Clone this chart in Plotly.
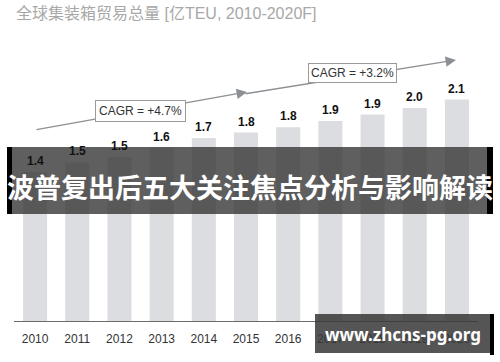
import plotly.graph_objects as go

years = ["2010", "2011", "2012", "2013", "2014", "2015", "2016", "2017", "2018", "2019", "2020"]
volumes = [1.40, 1.49, 1.54, 1.63, 1.72, 1.77, 1.82, 1.88, 1.94, 2.00, 2.08]
value_labels = ["1.4", "1.5", "1.5", "1.6", "1.7", "1.8", "1.8", "1.9", "1.9", "2.0", "2.1"]
cagr_labels = ["CAGR = +4.7%", "CAGR = +3.2%"]
title_text = "全球集装箱贸易总量 [亿TEU, 2010-2020F]"
banner_text = "波普复出后五大关注焦点分析与影响解读"
watermark_text = "www.zhcns-pg.org"

W, H = 500, 362
ML, MR, MT, MB = 14, 22, 40, 41
PW, PH = W - ML - MR, H - MT - MB
YMAX = 2.64


def px(xp):
    return (xp - ML) / PW


def py(yp):
    return (H - MB - yp) / PH


def dx(xp):
    return (xp - ML) / (PW / len(years)) - 0.5


def dy(yp):
    return (H - MB - yp) / PH * YMAX


fig = go.Figure()
fig.add_trace(go.Bar(
    x=years, y=volumes,
    marker=dict(color="#dcdde1", line=dict(width=0)),
    cliponaxis=False, hoverinfo="skip",
))

shapes = [
    dict(type="rect", xref="paper", yref="paper", x0=px(12), x1=px(487), y0=py(214), y1=py(147),
         fillcolor="rgba(55,55,55,0.80)", line=dict(width=0), layer="above"),
    dict(type="rect", xref="paper", yref="paper", x0=px(7), x1=px(12), y0=py(214), y1=py(147),
         fillcolor="#000000", line=dict(width=0), layer="above"),
    dict(type="rect", xref="paper", yref="paper", x0=px(487), x1=px(493), y0=py(214), y1=py(147),
         fillcolor="#000000", line=dict(width=0), layer="above"),
    dict(type="rect", xref="paper", yref="paper", x0=px(315), x1=px(490), y0=py(353), y1=py(314),
         fillcolor="rgba(55,55,55,0.85)", line=dict(width=0), layer="above"),
    dict(type="rect", xref="paper", yref="paper", x0=px(490), x1=px(494), y0=py(355), y1=py(314),
         fillcolor="#000000", line=dict(width=0), layer="above"),
]

annotations = [
    dict(text=title_text, xref="paper", yref="paper", x=px(14), y=py(3), xanchor="left", yanchor="top",
         showarrow=False, font=dict(family="Liberation Sans, Noto Sans CJK SC", size=16, color="#a8a8a8")),
    # arrows
    dict(text="", x=dx(247), y=dy(92), ax=dx(35), ay=dy(130), xref="x", yref="y", axref="x", ayref="y",
         showarrow=True, arrowhead=2, arrowsize=1.6, arrowwidth=1.3, arrowcolor="#8c8f94", standoff=0),
    dict(text="", x=dx(456), y=dy(60), ax=dx(244), ay=dy(94), xref="x", yref="y", axref="x", ayref="y",
         showarrow=True, arrowhead=2, arrowsize=1.6, arrowwidth=1.3, arrowcolor="#8c8f94", standoff=0),
    dict(text=cagr_labels[0], x=dx(140), y=dy(111), xref="x", yref="y", showarrow=False,
         font=dict(family="Liberation Sans", size=12, color="#333333"),
         bgcolor="white", bordercolor="#9a9a9a", borderwidth=1, borderpad=3),
    dict(text=cagr_labels[1], x=dx(352), y=dy(73), xref="x", yref="y", showarrow=False,
         font=dict(family="Liberation Sans", size=12, color="#333333"),
         bgcolor="white", bordercolor="#9a9a9a", borderwidth=1, borderpad=2),
    dict(text=banner_text, xref="paper", yref="paper", x=px(250), y=py(186), xanchor="center", yanchor="middle",
         showarrow=False, font=dict(family="Noto Sans CJK SC", size=27, color="white", weight="bold")),
    dict(text=watermark_text, xref="paper", yref="paper", x=px(403), y=py(334), xanchor="center", yanchor="middle",
         showarrow=False, font=dict(family="Noto Sans", size=17, color="white", weight="bold")),
]

for i, (v, lab) in enumerate(zip(volumes, value_labels)):
    annotations.append(dict(text=lab, x=i, y=v, xref="x", yref="y", showarrow=False,
                            yanchor="bottom", yshift=2,
                            font=dict(family="Liberation Sans", size=12, color="#111111", weight="bold")))

fig.update_layout(
    width=W, height=H, margin=dict(l=ML, r=MR, t=MT, b=MB),
    paper_bgcolor="white", plot_bgcolor="white", showlegend=False, bargap=0.43,
    shapes=shapes, annotations=annotations,
    xaxis=dict(type="category", categoryorder="array", categoryarray=years,
               range=[-0.5, len(years) - 0.5],
               showline=True, linecolor="#6b6b6b", linewidth=1, showgrid=False,
               ticks="outside", ticklen=7, tickcolor="rgba(0,0,0,0)",
               tickfont=dict(family="Liberation Sans", size=12, color="#333333"), fixedrange=True),
    yaxis=dict(range=[0, YMAX], visible=False, fixedrange=True),
)

fig.write_html("out.html", config={"displayModeBar": False},
               post_script="document.body.style.margin='0';document.body.style.overflow='hidden';")
